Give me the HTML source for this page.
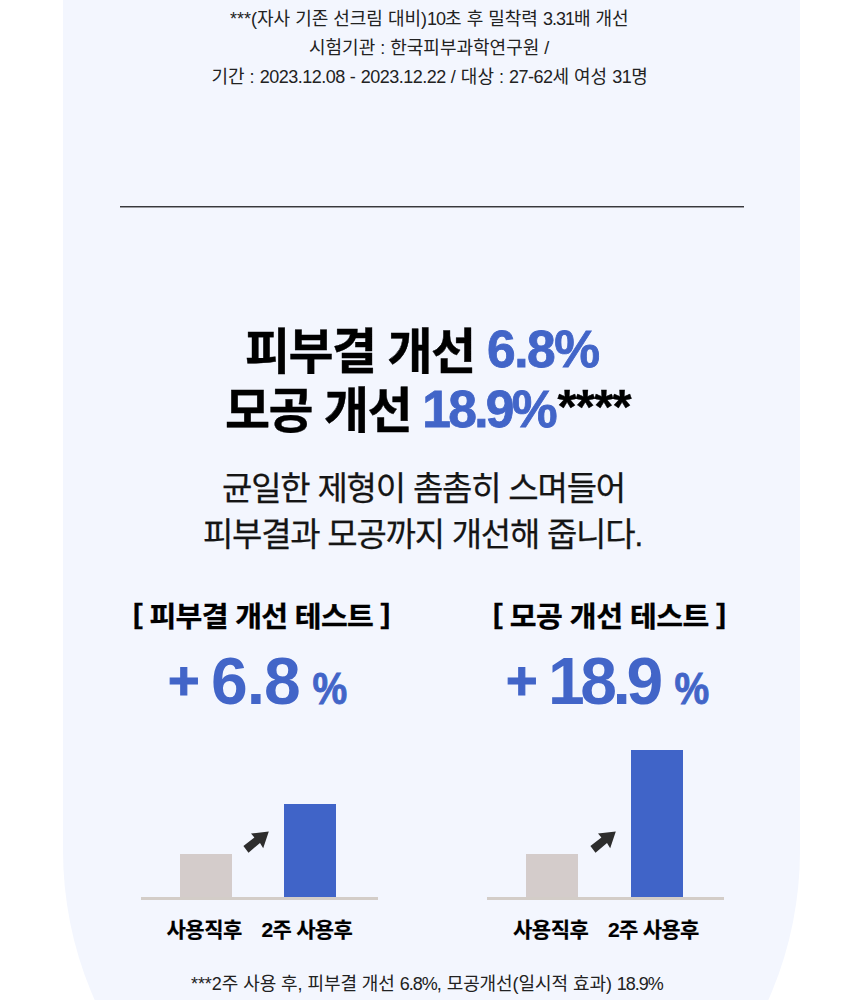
<!DOCTYPE html>
<html lang="ko">
<head>
<meta charset="utf-8">
<title>피부결 개선 / 모공 개선</title>
<style>
  html,body{margin:0;padding:0;}
  body{width:850px;height:1000px;overflow:hidden;background:#fff;position:relative;
       font-family:"Liberation Sans","Noto Sans CJK KR",sans-serif;color:#111;}
  .panel{position:absolute;left:63px;top:-50px;width:737px;height:1269px;background:#f3f6fe;
         border-radius:0 0 368.5px 368.5px;}
  .t{position:absolute;white-space:nowrap;margin:0;padding:0;}
  .note{font-size:18px;line-height:30px;color:#222;font-weight:400;}
  .note span{letter-spacing:-1px;}
  .n3 span{letter-spacing:-0.5px;}
  .rule{position:absolute;left:120px;top:206px;width:624px;height:2px;background:linear-gradient(#38383c 0,#38383c 50%,#9b9ca1 50%,#9b9ca1 100%);}
  h1.t{font-size:49px;line-height:58px;font-weight:700;letter-spacing:-1.6px;color:#000;-webkit-text-stroke:0.4px #000;}
  h1.t b{color:#4265c8;font-weight:700;font-size:51.5px;letter-spacing:-1.4px;-webkit-text-stroke:0.8px #4265c8;margin-left:-0.6px;position:relative;top:-1.5px;}
  h1.t i{font-style:normal;position:relative;top:-5px;margin-left:2.5px;letter-spacing:-0.7px;}
  .body{font-size:33px;line-height:48px;color:#151515;letter-spacing:-1.25px;font-weight:400;-webkit-text-stroke:0.25px #151515;}
  .sub{font-size:28px;line-height:36px;font-weight:700;color:#000;letter-spacing:-0.5px;transform:scaleX(1.04);transform-origin:0 50%;-webkit-text-stroke:0.3px #000;}
  .sub u{text-decoration:none;position:relative;top:-3.6px;}
  .big{color:#4265c8;font-weight:700;line-height:1;}
  .plus{font-size:54px;-webkit-text-stroke:1.2px #4265c8;}
  .num{font-size:66px;letter-spacing:-1px;}
  .pct{font-size:39px;-webkit-text-stroke:0.8px #4265c8;transform:scaleY(1.12);transform-origin:50% 84.65%;}
  .bar{position:absolute;}
  .gray{background:#d4cccb;}
  .blue{background:#4064c8;}
  .base{position:absolute;height:3px;background:#d3cdc8;}
  .lab{font-size:21px;line-height:28px;font-weight:700;color:#000;letter-spacing:-0.45px;-webkit-text-stroke:0.2px #000;}
  svg.arrow{position:absolute;overflow:visible;left:0;top:0;}
</style>
</head>
<body>
<div class="panel"></div>

<div class="t note" style="left:230px;top:3.5px;letter-spacing:0px;">***(자사 기존 선크림 대비)<span>10</span>초 후 밀착력 <span>3.31</span>배 개선</div>
<div class="t note" style="left:309px;top:32.5px;letter-spacing:0px;">시험기관 : 한국피부과학연구원 /</div>
<div class="t note n3" style="left:211.5px;top:61.5px;letter-spacing:0px;">기간 : <span>2023.12.08</span> - <span>2023.12.22</span> / 대상 : <span>27-62</span>세 여성 <span>31</span>명</div>

<div class="rule"></div>

<h1 class="t" style="left:245px;top:321.5px;">피부결 개선 <b style="margin-left:0.5px">6.8%</b></h1>
<h1 class="t" style="left:225px;top:381px;">모공 개선 <b style="letter-spacing:-2.7px">18.9%</b><i>****</i></h1>

<div class="t body" style="left:222px;top:465px;letter-spacing:-1.2px;">균일한 제형이 촘촘히 스며들어</div>
<div class="t body" style="left:203px;top:511px;">피부결과 모공까지 개선해 줍니다.</div>

<div class="t sub" style="left:132.5px;top:600px;letter-spacing:-0.65px;"><u>[</u> 피부결 개선 테스트 <u>]</u></div>
<div class="t sub" style="left:492.5px;top:600px;"><u>[</u> 모공 개선 테스트 <u>]</u></div>

<div class="t big plus" style="left:168px;top:652.5px;">+</div>
<div class="t big num"  style="left:211px;top:648px;">6.8</div>
<div class="t big pct"  style="left:312.5px;top:671px;">%</div>

<div class="t big plus" style="left:506px;top:652.5px;">+</div>
<div class="t big num"  style="left:548px;top:648px;letter-spacing:-4.4px;">18.9</div>
<div class="t big pct"  style="left:674.5px;top:671px;">%</div>

<!-- left chart -->
<div class="bar gray" style="left:180px;top:854px;width:52px;height:43px;"></div>
<div class="bar blue" style="left:284px;top:804px;width:52px;height:93px;"></div>
<div class="base" style="left:141px;top:897px;width:236.5px;"></div>
<svg class="arrow" width="850" height="1000"><polygon fill="#2d2d2d" points="268.8,831.4 251,833.5 254.4,837.6 243.4,846.1 248.5,852.8 260,842.9 263.2,848.2"/>
<polygon fill="#2d2d2d" transform="translate(347,0)" points="268.8,831.4 251,833.5 254.4,837.6 243.4,846.1 248.5,852.8 260,842.9 263.2,848.2"/></svg>
<div class="t lab" style="left:166.5px;top:916px;">사용직후</div>
<div class="t lab" style="left:261.5px;top:916px;letter-spacing:-0.7px;">2주 사용후</div>

<!-- right chart -->
<div class="bar gray" style="left:526.3px;top:854px;width:52px;height:43px;"></div>
<div class="bar blue" style="left:630.5px;top:750px;width:52px;height:147px;"></div>
<div class="base" style="left:487px;top:897px;width:236.5px;"></div>
<div class="t lab" style="left:513px;top:916px;">사용직후</div>
<div class="t lab" style="left:608px;top:916px;letter-spacing:-0.7px;">2주 사용후</div>

<div class="t note" style="left:191px;top:968.5px;letter-spacing:-0.07px;">***2주 사용 후, 피부결 개선 <span>6.8%</span>, 모공개선(일시적 효과) <span>18.9%</span></div>
</body>
</html>
